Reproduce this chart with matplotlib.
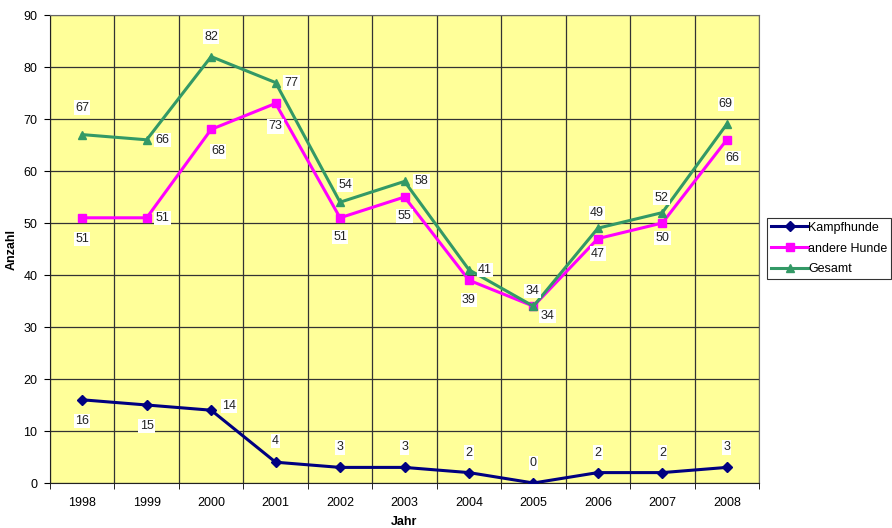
import numpy as np
import matplotlib.pyplot as plt

plt.rcParams["font.family"] = ["Liberation Sans", "DejaVu Sans"]

jahre = ["1998", "1999", "2000", "2001", "2002", "2003", "2004", "2005", "2006", "2007", "2008"]
kampfhunde = [16, 15, 14, 4, 3, 3, 2, 0, 2, 2, 3]
andere_hunde = [51, 51, 68, 73, 51, 55, 39, 34, 47, 50, 66]
gesamt = [67, 66, 82, 77, 54, 58, 41, 34, 49, 52, 69]

# Label-Versatz in Pixeln (x, y) je Punkt
off_kampf = [(0, -21), (0, -21), (18, 4), (0, 21), (0, 20), (0, 20), (0, 20), (0, 20), (0, 20), (0, 20), (0, 20)]
off_andere = [(0, -21), (16, 0), (7, -22), (0, -23), (0, -19), (0, -19), (0, -20), (14, -10), (0, -15), (0, -15), (6, -18)]
off_gesamt = [(0, 27), (16, 0), (0, 20), (16, 0), (5, 17), (17, 0), (16, 0), (-1, 15), (-1, 15), (-1, 15), (-1, 20)]

fig = plt.figure(figsize=(8.92, 5.28), dpi=100)
ax = fig.add_axes([50 / 892, 45 / 528, 709 / 892, 468 / 528])
ax.set_facecolor("#FFFF99")

x = np.arange(len(jahre))
serien = [
    ("Kampfhunde", kampfhunde, "#000080", "D", 5, off_kampf),
    ("andere Hunde", andere_hunde, "#FF00FF", "s", 6, off_andere),
    ("Gesamt", gesamt, "#339966", "^", 6, off_gesamt),
]
for name, werte, farbe, marker, ms, offs in serien:
    ax.plot(x, werte, color=farbe, lw=2.2, marker=marker, ms=ms, label=name, zorder=3)
    for xi, v, (dx, dy) in zip(x, werte, offs):
        ax.annotate(str(v), (xi, v), xytext=(dx, dy), textcoords="offset pixels",
                    ha="center", va="center", fontsize=9, color="#222222", zorder=4,
                    bbox=dict(boxstyle="square,pad=0.1", fc="white", ec="none"))

ax.set_xlim(-0.5, len(jahre) - 0.5)
ax.set_ylim(0, 90)
ax.set_yticks(range(0, 91, 10))
ax.set_xticks(x)
ax.set_xticklabels(jahre)
ax.set_xticks(np.arange(-0.5, len(jahre), 1), minor=True)
ax.tick_params(axis="x", which="major", length=0, pad=10, labelsize=9)
ax.tick_params(axis="x", which="minor", length=4, direction="out")
ax.tick_params(axis="y", length=4, direction="out", labelsize=9, pad=5)
ax.grid(True, which="minor", axis="x", color="#333333", lw=0.9)
ax.grid(True, which="major", axis="y", color="#333333", lw=0.9)
ax.set_axisbelow(True)
for s in ax.spines.values():
    s.set_color("#666666")
ax.spines["left"].set_color("#222222")
ax.spines["bottom"].set_color("#222222")

ax.set_ylabel("Anzahl", fontsize=9, fontweight="bold")
ax.yaxis.set_label_coords(-32 / 709, 0.5)
ax.set_xlabel("Jahr", fontsize=9, fontweight="bold", labelpad=5)

leg = fig.legend(loc="upper left", bbox_to_anchor=(767 / 892, 1 - 218 / 528), fontsize=9,
                 frameon=True, fancybox=False, edgecolor="black", borderpad=0.3,
                 handlelength=3, handletextpad=0.0, labelspacing=0.7, borderaxespad=0)
leg.get_frame().set_linewidth(0.8)

fig.savefig("out.png", dpi=100)
